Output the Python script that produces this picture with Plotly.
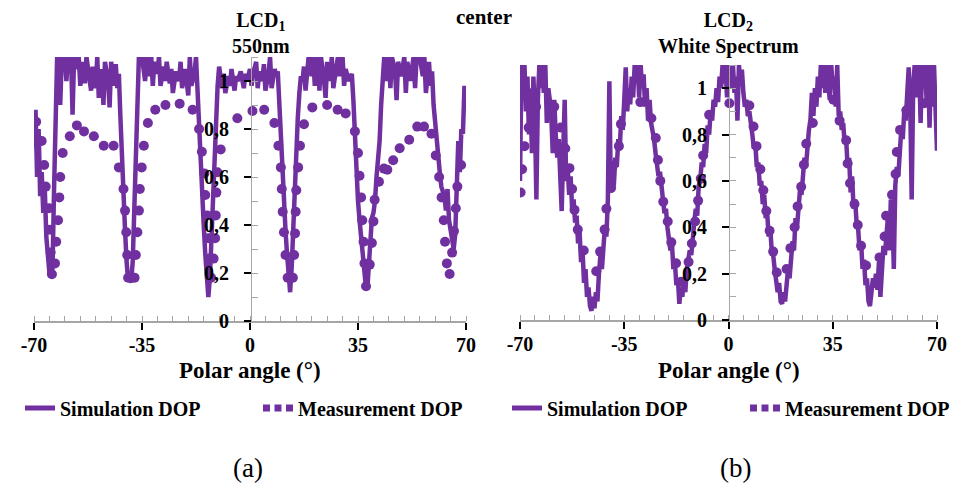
import plotly.graph_objects as go

PURPLE = "#7030A0"
SERIF = "Liberation Serif, Times New Roman, serif"

# ---------------- data ----------------
x_ticks = [-70, -35, 0, 35, 70]
x_tick_text = ["-70", "-35", "0", "35", "70"]
y_ticks = [0, 0.2, 0.4, 0.6, 0.8, 1]

# Panel (a): LCD1, 550 nm  -- (polar angle, DOP)
sim_a = [(-70, 0.72), (-69.5, 0.88), (-69, 0.60), (-68.5, 0.80), (-68, 0.52), (-67.5, 0.62),
         (-67, 0.45), (-66.5, 0.55), (-66, 0.35), (-65.5, 0.28), (-65, 0.20), (-64.5, 0.19),
         (-64, 0.22), (-63.5, 0.55), (-63, 0.95), (-62.5, 1.1), (-62, 1.1), (-61.5, 0.90),
         (-61, 1.1), (-60, 1.1), (-59.5, 1.0), (-59, 1.1), (-58, 1.1), (-57.5, 0.86), (-57, 1.1),
         (-56, 1.05), (-55.5, 1.1), (-55, 0.98), (-54, 1.08), (-53.5, 0.99), (-53, 1.1),
         (-52, 1.02), (-51.5, 0.96), (-51, 1.06), (-50, 0.97), (-49.5, 1.1), (-49, 0.93),
         (-48, 1.05), (-47.5, 0.90), (-47, 1.08), (-46, 1.0), (-45.5, 0.89), (-45, 1.08),
         (-44, 0.98), (-43.5, 1.07), (-43, 0.97), (-42.5, 1.03), (-42, 0.85), (-41.5, 0.65),
         (-41, 0.50), (-40.5, 0.38), (-40, 0.25), (-39.5, 0.17), (-39, 0.18), (-38.5, 0.16),
         (-38, 0.25), (-37.5, 0.45), (-37, 0.68), (-36.5, 0.90), (-36, 1.1), (-35.5, 1.08),
         (-35, 1.1), (-34, 1.0), (-33.5, 1.1), (-33, 1.02), (-32, 1.1), (-31.5, 0.98), (-31, 1.08),
         (-30, 1.03), (-29.5, 1.1), (-29, 0.98), (-28, 1.06), (-27.5, 1.0), (-27, 1.08),
         (-26, 0.99), (-25.5, 1.05), (-25, 0.95), (-24, 1.04), (-23, 1.0), (-22.5, 1.08),
         (-22, 0.97), (-21, 1.05), (-20, 0.94), (-19.5, 1.1), (-19, 0.98), (-18, 1.03),
         (-17.5, 1.1), (-17, 0.95), (-16.5, 0.80), (-16, 0.62), (-15.5, 0.50), (-15, 0.40),
         (-14.5, 0.28), (-14, 0.18), (-13.5, 0.10), (-13, 0.18), (-12.5, 0.35), (-12, 0.55),
         (-11.5, 0.72), (-11, 0.86), (-10.5, 0.98), (-10, 1.06), (-9, 0.97), (-8.5, 1.03),
         (-8, 0.95), (-7, 1.02), (-6.5, 0.98), (-6, 1.05), (-5, 0.96), (-4.5, 1.02), (-4, 1.0),
         (-3, 1.04), (-2, 0.97), (-1.5, 1.03), (-1, 1.0), (0, 1.05), (0.5, 0.98), (1, 1.03),
         (2, 1.08), (2.5, 0.97), (3, 1.04), (4, 1.0), (4.5, 1.07), (5, 0.96), (6, 1.03),
         (6.5, 1.1), (7, 0.97), (8, 1.05), (8.5, 1.02), (9, 1.04), (9.5, 0.90), (10, 0.70),
         (10.5, 0.58), (11, 0.48), (11.5, 0.38), (12, 0.28), (12.5, 0.20), (13, 0.12),
         (13.5, 0.22), (14, 0.40), (14.5, 0.55), (15, 0.72), (15.5, 0.85), (16, 0.95),
         (16.5, 1.02), (17, 1.0), (17.5, 1.06), (18, 0.96), (19, 1.1), (20, 1.02), (20.5, 1.1),
         (21, 0.98), (22, 1.1), (22.5, 0.96), (23, 1.1), (24, 1.0), (24.5, 0.93), (25, 1.08),
         (26, 1.0), (26.5, 1.1), (27, 0.97), (28, 1.06), (28.5, 1.1), (29, 1.02), (30, 1.1),
         (30.5, 0.98), (31, 1.05), (32, 1.0), (33, 1.03), (33.5, 0.92), (34, 0.75), (34.5, 0.60),
         (35, 0.50), (35.5, 0.42), (36, 0.35), (36.5, 0.28), (37, 0.20), (37.5, 0.15),
         (38, 0.13), (38.5, 0.22), (39, 0.35), (39.5, 0.43), (40, 0.45), (40.5, 0.50),
         (41, 0.60), (42, 0.75), (42.5, 0.90), (43, 1.05), (43.5, 1.1), (44, 1.0), (45, 1.1),
         (45.5, 0.97), (46, 1.1), (47, 1.04), (47.5, 0.92), (48, 1.08), (49, 1.02), (50, 1.1),
         (50.5, 0.95), (51, 1.08), (52, 1.0), (53, 1.1), (53.5, 0.97), (54, 1.1), (55, 1.1),
         (56, 1.02), (56.5, 1.1), (57, 0.95), (58, 1.08), (58.5, 0.98), (59, 1.04), (59.5, 0.90),
         (60, 0.82), (60.5, 0.74), (61, 0.70), (61.5, 0.62), (62, 0.56), (63, 0.52), (63.5, 0.46),
         (64, 0.55), (64.5, 0.42), (65, 0.38), (65.5, 0.33), (66, 0.30), (66.5, 0.36),
         (67, 0.55), (67.5, 0.75), (68, 0.62), (68.5, 0.80), (69, 0.78), (69.5, 0.98), (70, 0.90)]

meas_a = [(-69.3, 0.83), (-67.5, 0.75), (-66.7, 0.65), (-66.2, 0.56), (-65.1, 0.47), (-64.9, 0.38),
          (-64.6, 0.285), (-64.2, 0.195), (-63.2, 0.24), (-62.8, 0.33), (-62.2, 0.42),
          (-61.8, 0.515), (-61.5, 0.60), (-60.7, 0.70), (-58.4, 0.77), (-56.1, 0.815),
          (-53.8, 0.79), (-50.6, 0.77), (-47.4, 0.73), (-44.2, 0.73), (-42.5, 0.64), (-41.0, 0.55),
          (-40.5, 0.46), (-40.1, 0.37), (-39.8, 0.275), (-39.5, 0.18), (-37.4, 0.18),
          (-37.0, 0.275), (-36.5, 0.37), (-36.0, 0.46), (-35.7, 0.55), (-35.1, 0.64),
          (-34.4, 0.73), (-33.1, 0.825), (-30.7, 0.88), (-27.4, 0.90), (-22.8, 0.905),
          (-18.6, 0.88), (-16.5, 0.80), (-15.6, 0.705), (-14.8, 0.615), (-14.5, 0.525),
          (-13.9, 0.44), (-13.5, 0.345), (-13.1, 0.26), (-12.6, 0.18), (-11.8, 0.26),
          (-11.3, 0.345), (-11.1, 0.44), (-10.9, 0.535), (-10.6, 0.62), (-9.5, 0.715),
          (-4.1, 0.845), (0.8, 0.875), (4.6, 0.88), (7.9, 0.825), (9.2, 0.73), (10.0, 0.64),
          (10.3, 0.55), (10.6, 0.455), (11.0, 0.37), (11.5, 0.275), (12.2, 0.18), (13.9, 0.18),
          (14.3, 0.275), (14.6, 0.365), (14.8, 0.455), (15.0, 0.545), (15.6, 0.64), (16.2, 0.73),
          (17.5, 0.82), (20.2, 0.89), (25.0, 0.90), (28.4, 0.88), (31.0, 0.865), (34.0, 0.79),
          (35.0, 0.70), (35.5, 0.605), (36.0, 0.515), (36.4, 0.42), (36.8, 0.33), (37.1, 0.24),
          (37.6, 0.145), (38.8, 0.235), (39.5, 0.325), (40.0, 0.415), (40.4, 0.505),
          (41.8, 0.58), (43.4, 0.635), (44.5, 0.63), (46.4, 0.67), (48.5, 0.72), (51.6, 0.755),
          (54.2, 0.81), (56.4, 0.81), (58.8, 0.78), (60.2, 0.69), (61.3, 0.60), (62.1, 0.515),
          (62.8, 0.42), (63.2, 0.33), (63.8, 0.24), (64.7, 0.196), (65.5, 0.285), (66.1, 0.375),
          (66.7, 0.47), (67.2, 0.56), (68.4, 0.65)]

# Panel (b): LCD2, white spectrum -- (polar angle, DOP)
sim_b = [(-70, 0.60), (-69.5, 1.1), (-69, 0.95), (-68.5, 1.1), (-68, 0.90), (-67.5, 1.05),
         (-67, 0.80), (-66.5, 1.0), (-66, 0.72), (-65.5, 1.05), (-65, 0.88), (-64.5, 0.52),
         (-64, 0.95), (-63.5, 1.1), (-63, 1.0), (-62.5, 1.1), (-62, 0.98), (-61.5, 1.1),
         (-61, 0.85), (-60.5, 1.0), (-60, 0.95), (-59.5, 0.88), (-59, 0.72), (-58.5, 0.95),
         (-58, 0.80), (-57.5, 0.70), (-57, 0.78), (-56.5, 0.55), (-56, 0.47), (-55.5, 0.72),
         (-55, 0.95), (-54.5, 0.60), (-54, 0.66), (-53.5, 0.54), (-53, 0.62), (-52.5, 0.48),
         (-52, 0.52), (-51.5, 0.42), (-51, 0.45), (-50.5, 0.33), (-50, 0.38), (-49.5, 0.25),
         (-49, 0.30), (-48.5, 0.16), (-48, 0.22), (-47.5, 0.10), (-47, 0.14), (-46.5, 0.06),
         (-46, 0.04), (-45.5, 0.10), (-45, 0.05), (-44.5, 0.12), (-44, 0.08), (-43.5, 0.20),
         (-43, 0.28), (-42.5, 0.22), (-42, 0.35), (-41.5, 0.40), (-41, 0.36), (-40.5, 0.52),
         (-40, 1.03), (-39.5, 0.55), (-39, 0.62), (-38.5, 0.58), (-38, 0.70), (-37.5, 0.66),
         (-37, 0.78), (-36.5, 0.74), (-36, 0.88), (-35.5, 0.82), (-35, 0.95), (-34.5, 1.09),
         (-34, 0.90), (-33.5, 1.0), (-33, 0.93), (-32.5, 1.05), (-32, 0.96), (-31.5, 1.1),
         (-31, 1.02), (-30.5, 1.1), (-30, 0.96), (-29.5, 1.1), (-29, 1.0), (-28.5, 1.06),
         (-28, 0.92), (-27.5, 1.0), (-27, 0.86), (-26.5, 0.95), (-26, 0.85), (-25.5, 0.82),
         (-25, 0.78), (-24.5, 0.72), (-24, 0.68), (-23.5, 0.62), (-23, 0.64), (-22.5, 0.55),
         (-22, 0.52), (-21.5, 0.46), (-21, 0.48), (-20.5, 0.40), (-20, 0.36), (-19.5, 0.30),
         (-19, 0.33), (-18.5, 0.22), (-18, 0.25), (-17.5, 0.15), (-17, 0.18), (-16.5, 0.07),
         (-16, 0.14), (-15.5, 0.10), (-15, 0.17), (-14.5, 0.12), (-14, 0.22), (-13.5, 0.26),
         (-13, 0.30), (-12.5, 0.28), (-12, 0.38), (-11.5, 0.42), (-11, 0.48), (-10.5, 0.45),
         (-10, 0.58), (-9.5, 0.60), (-9, 0.68), (-8.5, 0.66), (-8, 0.76), (-7.5, 0.72),
         (-7, 0.84), (-6.5, 0.80), (-6, 0.90), (-5.5, 0.86), (-5, 0.95), (-4.5, 0.92), (-4, 1.0),
         (-3.5, 0.94), (-3, 1.05), (-2.5, 1.0), (-2, 1.1), (-1.5, 1.02), (-1, 1.1), (-0.5, 0.96),
         (0, 1.08), (0.5, 1.1), (1, 1.0), (1.5, 1.1), (2, 0.98), (2.5, 1.05), (3, 0.86),
         (3.5, 1.1), (4, 1.02), (4.5, 1.08), (5, 0.98), (5.5, 0.92), (6, 0.95), (6.5, 0.88),
         (7, 0.90), (7.5, 0.82), (8, 0.80), (8.5, 0.74), (9, 0.76), (9.5, 0.66), (10, 0.68),
         (10.5, 0.58), (11, 0.60), (11.5, 0.50), (12, 0.54), (12.5, 0.44), (13, 0.46),
         (13.5, 0.36), (14, 0.40), (14.5, 0.30), (15, 0.28), (15.5, 0.22), (16, 0.18),
         (16.5, 0.12), (17, 0.16), (17.5, 0.08), (18, 0.07), (18.5, 0.12), (19, 0.08),
         (19.5, 0.16), (20, 0.22), (20.5, 0.18), (21, 0.30), (21.5, 0.34), (22, 0.30),
         (22.5, 0.44), (23, 0.40), (23.5, 0.52), (24, 0.56), (24.5, 0.54), (25, 0.64),
         (25.5, 0.70), (26, 0.66), (26.5, 0.78), (27, 0.82), (27.5, 0.86), (28, 0.98),
         (28.5, 0.88), (29, 1.0), (29.5, 0.92), (30, 1.05), (30.5, 0.96), (31, 1.1), (31.5, 1.0),
         (32, 1.1), (32.5, 0.98), (33, 1.1), (33.5, 1.02), (34, 0.95), (34.5, 1.1), (35, 1.0),
         (35.5, 1.05), (36, 0.92), (36.5, 1.1), (37, 0.88), (37.5, 0.90), (38, 0.82),
         (38.5, 0.85), (39, 0.76), (39.5, 0.78), (40, 0.66), (40.5, 0.70), (41, 0.55),
         (41.5, 0.62), (42, 0.48), (42.5, 0.52), (43, 0.42), (43.5, 0.40), (44, 0.30),
         (44.5, 0.34), (45, 0.22), (45.5, 0.26), (46, 0.15), (46.5, 0.18), (47, 0.08),
         (47.5, 0.06), (48, 0.12), (48.5, 0.18), (49, 0.14), (49.5, 0.20), (50, 0.13),
         (50.5, 0.25), (51, 0.10), (51.5, 0.20), (52, 0.32), (52.5, 0.28), (53, 0.40),
         (53.5, 0.44), (54, 0.30), (54.5, 0.52), (55, 0.48), (55.5, 0.22), (56, 0.58),
         (56.5, 0.66), (57, 0.62), (57.5, 0.75), (58, 0.82), (58.5, 0.78), (59, 0.90),
         (59.5, 0.86), (60, 0.96), (60.5, 1.09), (61, 0.95), (61.5, 0.52), (62, 1.0), (62.5, 1.1),
         (63, 0.96), (63.5, 1.1), (64, 1.1), (64.5, 0.85), (65, 1.1), (65.5, 1.0), (66, 1.1),
         (66.5, 0.95), (67, 1.1), (67.5, 0.83), (68, 1.1), (68.5, 0.92), (69, 1.1), (69.5, 0.88),
         (70, 0.73)]

meas_b = [(-69.8, 0.55), (-69.3, 0.65), (-68.5, 0.75), (-67.1, 0.83), (-64.6, 0.92), (-58.5, 0.92),
          (-56.3, 0.83), (-54.8, 0.74), (-53.4, 0.655), (-52.5, 0.565), (-51.7, 0.475),
          (-50.6, 0.39), (-48.6, 0.30), (-44.4, 0.21), (-43.1, 0.295), (-41.6, 0.39),
          (-41.0, 0.48), (-39.4, 0.57), (-38.8, 0.665), (-36.8, 0.75), (-36.1, 0.845),
          (-29.6, 0.94), (-25.9, 0.87), (-24.4, 0.785), (-23.7, 0.69), (-22.9, 0.60),
          (-21.9, 0.51), (-20.4, 0.425), (-19.2, 0.335), (-17.6, 0.245), (-15.9, 0.165),
          (-13.4, 0.25), (-12.3, 0.33), (-11.2, 0.425), (-10.2, 0.515), (-9.3, 0.61),
          (-8.5, 0.71), (-6.5, 0.885), (0.3, 0.935), (7.0, 0.925), (8.4, 0.835), (9.4, 0.75),
          (10.7, 0.65), (11.7, 0.56), (12.7, 0.47), (13.8, 0.385), (15.0, 0.295), (16.2, 0.205),
          (19.5, 0.22), (20.8, 0.31), (22.2, 0.40), (23.2, 0.49), (24.4, 0.575), (25.3, 0.67),
          (26.1, 0.76), (28.3, 0.85), (35.2, 0.95), (37.3, 0.86), (39.5, 0.775), (40.0, 0.675),
          (40.8, 0.59), (42.3, 0.50), (43.4, 0.41), (44.5, 0.32), (46.2, 0.235), (50.7, 0.27),
          (52.4, 0.36), (52.9, 0.45), (54.9, 0.54), (56.1, 0.63), (56.5, 0.725), (57.6, 0.82),
          (59.7, 0.905), (65.8, 0.935)]

sim_name = "Simulation DOP"
meas_name = "Measurement DOP"

# ---------------- figure ----------------
W, H = 960, 489
fig = go.Figure()


def unzip(pairs):
    return [p[0] for p in pairs], [p[1] for p in pairs]


panels = [
    dict(sim=sim_a, meas=meas_a, xa="x", ya="y", legs=("legend", "legend2")),
    dict(sim=sim_b, meas=meas_b, xa="x2", ya="y2", legs=("legend3", "legend4")),
]
for p in panels:
    sx, sy = unzip(p["sim"])
    mx, my = unzip(p["meas"])
    fig.add_trace(go.Scatter(x=sx, y=sy, mode="lines", xaxis=p["xa"], yaxis=p["ya"],
                             line=dict(color=PURPLE, width=4.5), showlegend=False,
                             hoverinfo="skip"))
    fig.add_trace(go.Scatter(x=mx, y=my, mode="markers", xaxis=p["xa"], yaxis=p["ya"],
                             marker=dict(color=PURPLE, size=10), showlegend=False))
    # legend glyphs
    fig.add_trace(go.Scatter(x=[None], y=[None], mode="lines", xaxis=p["xa"], yaxis=p["ya"],
                             name=sim_name, legend=p["legs"][0],
                             line=dict(color=PURPLE, width=5)))
    fig.add_trace(go.Scatter(x=[None], y=[None], mode="lines", xaxis=p["xa"], yaxis=p["ya"],
                             name=meas_name, legend=p["legs"][1],
                             line=dict(color=PURPLE, width=7, dash="7px,4.5px")))


def px2x(px):
    return px / W


def px2y(py):
    return 1 - py / H


xcommon = dict(range=[-70, 70], tickvals=x_ticks, ticktext=x_tick_text, showline=True,
               linecolor="#A6A6A6", linewidth=1.5, ticks="outside", ticklen=7, tickwidth=2,
               tickcolor="black", showgrid=False, zeroline=False, ticklabelstandoff=-2,
               tickfont=dict(family=SERIF, size=20, color="black", weight="bold"),
               minor=dict(dtick=5, ticks="inside", ticklen=5, tickcolor="#A6A6A6", tickwidth=1,
                          showgrid=False))
ycommon = dict(range=[0, 1.1], tickvals=y_ticks, showline=True, linecolor="#A6A6A6",
               linewidth=1, ticks="outside", ticklen=7, tickwidth=2, tickcolor="black",
               showgrid=False, zeroline=False, anchor="free", ticklabelstandoff=11,
               tickfont=dict(family=SERIF, size=20, color="black", weight="bold"),
               minor=dict(dtick=0.1, ticks="inside", ticklen=6, tickcolor="#A6A6A6", tickwidth=1,
                          showgrid=False))

fig.update_layout(
    width=W, height=H, margin=dict(l=0, r=0, t=0, b=0, autoexpand=False),
    paper_bgcolor="white", plot_bgcolor="white", separators=", ",
    xaxis=dict(domain=[px2x(34), px2x(466)], anchor="y", **xcommon),
    yaxis=dict(domain=[px2y(321), px2y(57)], position=px2x(251), **ycommon),
    xaxis2=dict(domain=[px2x(520), px2x(937)], anchor="y2", **xcommon),
    yaxis2=dict(domain=[px2y(320), px2y(65)], position=px2x(729), **ycommon),
)

legfont = dict(family=SERIF, size=20, color="black", weight="bold")
leg_pos = {"legend": 20, "legend2": 258, "legend3": 507, "legend4": 745}
for name, xp in leg_pos.items():
    fig.update_layout({name: dict(x=px2x(xp), y=px2y(408), xanchor="left", yanchor="middle",
                                  orientation="h", font=legfont, bgcolor="rgba(0,0,0,0)",
                                  borderwidth=0)})

bold = dict(family=SERIF, size=21, color="black", weight="bold")
ann = [
    dict(text="center", x=px2x(484), y=px2y(17), font=bold),
    dict(text="LCD<sub>1</sub><br>550nm", x=px2x(261), y=px2y(33), font=dict(bold, size=20)),
    dict(text="LCD<sub>2</sub><br>White Spectrum", x=px2x(728), y=px2y(33), font=dict(bold, size=20)),
    dict(text="Polar angle (°)", x=px2x(250), y=px2y(370), font=dict(bold, size=23)),
    dict(text="Polar angle (°)", x=px2x(729), y=px2y(370), font=dict(bold, size=23)),
    dict(text="(a)", x=px2x(248), y=px2y(468), font=dict(family=SERIF, size=27, color="black")),
    dict(text="(b)", x=px2x(735), y=px2y(468), font=dict(family=SERIF, size=27, color="black")),
]
for a in ann:
    fig.add_annotation(xref="paper", yref="paper", showarrow=False, xanchor="center",
                       yanchor="middle", **a)

fig.write_html("out.html", config={"displayModeBar": False},
               post_script="document.body.style.margin='0';document.body.style.overflow='hidden';")
